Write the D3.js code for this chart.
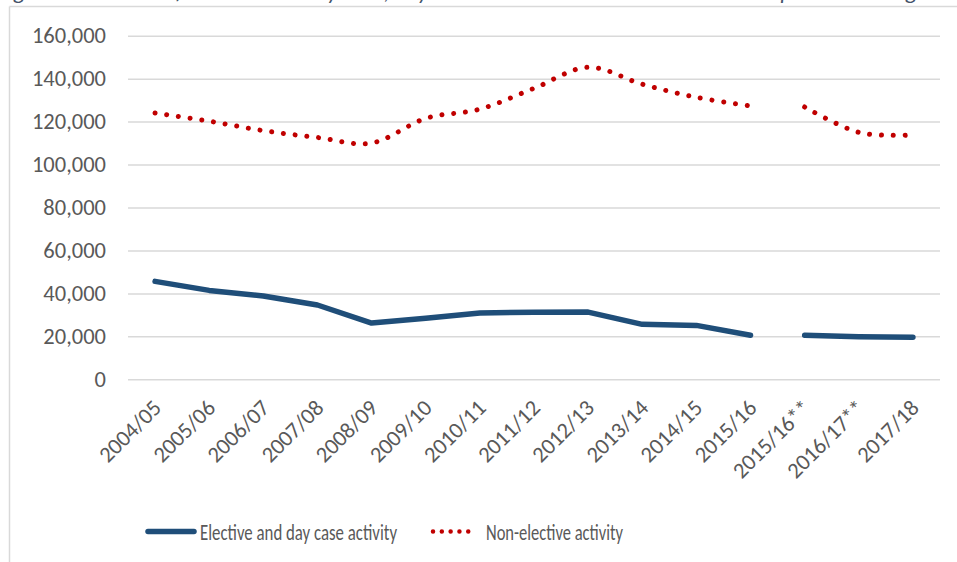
<!DOCTYPE html>
<html><head><meta charset="utf-8">
<script src="https://cdn.jsdelivr.net/npm/d3@7"></script>
<style>
html,body{margin:0;padding:0;background:#fff;}
svg{display:block;}
text{font-family:Carlito,Calibri,Lato,"Liberation Sans",sans-serif;}
</style></head>
<body>
<svg id="chart" width="957" height="562"></svg>
<script>
const categories = ["2004/05","2005/06","2006/07","2007/08","2008/09","2009/10","2010/11","2011/12","2012/13","2013/14","2014/15","2015/16","2015/16**","2016/17**","2017/18"];
// series segment: 0 = original method, 1 = revised method (**)
const segmentOf = [0,0,0,0,0,0,0,0,0,0,0,0,1,1,1];
const electiveValues = [45600,41400,38800,34600,26200,28400,30900,31200,31300,25600,25100,20500,20500,19800,19600];
const nonElectiveValues = [124000,120200,115800,112600,110000,121500,125800,135500,145300,137400,131300,127300,126800,115000,113800];
const yTicks = [0,20000,40000,60000,80000,100000,120000,140000,160000];
const seriesNames = ["Elective and day case activity","Non-elective activity"];
const titleText = "Figure 3: Number of elective and day case, day cases and non-elective mental health patients in England";

const svg = d3.select("#chart");
const W = 957, H = 562;
const plot = {left:128, right:940, top:35.7, bottom:379.3};

// frame (left and top border of chart area)
svg.append("line").attr("x1",9.5).attr("x2",W).attr("y1",6.5).attr("y2",6.5).attr("stroke","#d9d9d9").attr("stroke-width",1.5);
svg.append("line").attr("x1",9.5).attr("x2",9.5).attr("y1",6.5).attr("y2",H).attr("stroke","#d9d9d9").attr("stroke-width",1.5);

// cropped caption above chart
svg.append("text").attr("x",-2).attr("y",-1).attr("font-size",23).attr("font-style","italic")
  .attr("fill","#44546a").attr("textLength",960).attr("lengthAdjust","spacingAndGlyphs").text(titleText);

const x = d3.scalePoint().domain(categories).range([plot.left, plot.right]).padding(0.5);
const y = d3.scaleLinear().domain([0,160000]).range([plot.bottom, plot.top]);

// gridlines
const yAxis = d3.axisLeft(y).tickValues(yTicks).tickSize(-(plot.right-plot.left)).tickPadding(22)
  .tickFormat(d3.format(","));
const gy = svg.append("g").attr("transform",`translate(${plot.left},0)`).call(yAxis);
gy.select(".domain").remove();
gy.selectAll(".tick line").attr("stroke","#d9d9d9").attr("stroke-width",1.5);
gy.selectAll(".tick text").attr("font-size",22.5).attr("fill","#595959");

// x axis labels
const xAxis = d3.axisBottom(x).tickSize(0).tickPadding(0);
const gx = svg.append("g").attr("transform",`translate(0,${plot.bottom})`).call(xAxis);
gx.select(".domain").remove();
gx.selectAll(".tick text")
  .attr("font-size",22.5).attr("fill","#595959")
  .attr("text-anchor","end")
  .attr("dy",0).attr("y",0)
  .attr("transform","translate(7,30) rotate(-45)");

// lines
const segIds = [0,1];
const mkLine = (vals, curve) => d3.line()
  .x(i => x(categories[i])).y(i => y(vals[i])).curve(curve);

segIds.forEach(s => {
  const idx = categories.map((c,i)=>i).filter(i => segmentOf[i]===s);
  svg.append("path").datum(idx)
    .attr("d", mkLine(electiveValues, d3.curveLinear))
    .attr("fill","none").attr("stroke","#1f4e79").attr("stroke-width",5.5)
    .attr("stroke-linecap","round").attr("stroke-linejoin","round");
  svg.append("path").datum(idx)
    .attr("d", mkLine(nonElectiveValues, d3.curveCatmullRom.alpha(0)))
    .attr("fill","none").attr("stroke","#c00000").attr("stroke-width",5)
    .attr("stroke-linecap","round").attr("stroke-dasharray","0.01 11.8");
});

// legend
const lg = svg.append("g");
lg.append("line").attr("x1",148).attr("x2",194).attr("y1",531.5).attr("y2",531.5)
  .attr("stroke","#1f4e79").attr("stroke-width",5.5).attr("stroke-linecap","round");
lg.append("text").attr("x",200).attr("y",539.5).attr("font-size",23).attr("fill","#595959")
  .attr("textLength",197).attr("lengthAdjust","spacingAndGlyphs").text(seriesNames[0]);
lg.append("line").attr("x1",433).attr("x2",477).attr("y1",531.5).attr("y2",531.5)
  .attr("stroke","#c00000").attr("stroke-width",4.5).attr("stroke-linecap","round").attr("stroke-dasharray","0.01 8.8");
lg.append("text").attr("x",486).attr("y",539.5).attr("font-size",23).attr("fill","#595959")
  .attr("textLength",137).attr("lengthAdjust","spacingAndGlyphs").text(seriesNames[1]);
</script>
</body></html>
